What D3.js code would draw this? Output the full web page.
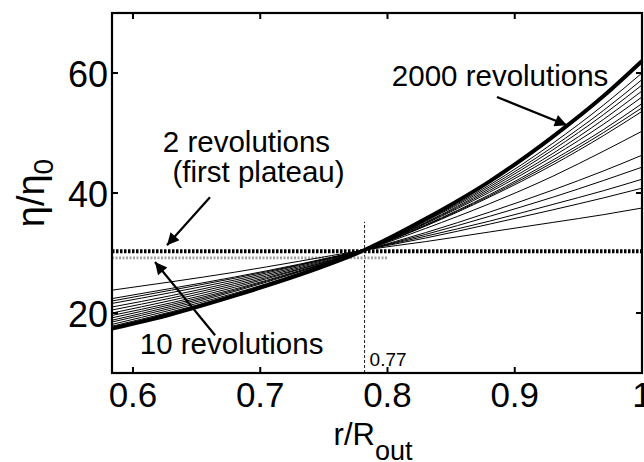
<!DOCTYPE html>
<html>
<head>
<meta charset="utf-8">
<script src="https://cdn.jsdelivr.net/npm/d3@7"></script>
<style>
  body { margin: 0; background: #fff; }
  svg text { font-family: "Liberation Sans", Arial, Helvetica, sans-serif; fill: #000; }
</style>
</head>
<body>
<p style="margin:0"></p>
<script>
var rValues = [0.5835, 0.63, 0.68, 0.73, 0.782, 0.83, 0.88, 0.93, 0.97, 1.0];

// intermediate revolutions (thin lines), eta/eta0
var thinCurves = [
    [23.8, 25.2, 26.8, 28.6, 30.5, 31.9, 33.5, 35.1, 36.4, 37.5],
    [22.4, 24.1, 26.0, 28.1, 30.5, 32.5, 34.8, 37.2, 39.2, 40.8],
    [22.0, 23.8, 25.8, 28.0, 30.5, 32.8, 35.3, 38.1, 40.4, 42.3],
    [21.6, 23.4, 25.5, 27.9, 30.5, 33.1, 36.1, 39.3, 42.1, 44.3],
    [21.0, 22.9, 25.2, 27.7, 30.5, 33.4, 36.8, 40.5, 43.7, 46.3],
    [20.5, 22.5, 24.9, 27.5, 30.5, 34.1, 38.2, 42.8, 47.0, 50.3],
    [20.0, 22.1, 24.6, 27.3, 30.5, 34.5, 39.3, 44.7, 49.6, 53.6],
    [19.6, 21.7, 24.3, 27.2, 30.5, 34.6, 39.5, 45.1, 50.1, 54.2],
    [19.2, 21.4, 24.0, 27.0, 30.5, 34.7, 39.7, 45.5, 50.6, 54.9],
    [18.8, 21.1, 23.8, 26.9, 30.5, 34.9, 40.1, 46.1, 51.5, 56.0],
    [18.5, 20.8, 23.6, 26.8, 30.5, 35.0, 40.4, 46.6, 52.3, 57.0],
    [18.1, 20.5, 23.3, 26.6, 30.5, 35.1, 40.7, 47.2, 53.1, 58.0],
    [17.8, 20.2, 23.1, 26.5, 30.5, 35.3, 41.0, 47.7, 53.8, 58.9],
    [17.6, 20.0, 23.0, 26.4, 30.5, 35.4, 41.3, 48.3, 54.7, 60.0]
];

// 2000 revolutions (thick)
var thickCurve = [17.4, 19.8, 22.9, 26.3, 30.5, 35.7, 41.9, 49.4, 56.2, 62.0];

// flat profiles
var plateau2 = { r: [0.5835, 1.0], eta: [30.3, 30.3] };   // 2 revolutions
var plateau10 = { r: [0.5835, 0.80], eta: [29.2, 29.2] }; // 10 revolutions

var crossR = 0.782;
var crossTop = 35.2;

var xTicks = [0.6, 0.7, 0.8, 0.9, 1.0];
var yTicks = [20, 40, 60];

var w = 644;
var h = 462;
var pLeft = 112, pRight = 642, pTop = 13, pBottom = 373;

var svg = d3.select("p")
            .append("svg")
            .attr("width", w)
            .attr("height", h)
            .style("display", "block");

var x = d3.scaleLinear().domain([0.5835, 1.0]).range([pLeft, pRight]);
var y = d3.scaleLinear().domain([10, 70]).range([pBottom, pTop]);

svg.append("clipPath")
   .attr("id", "plotclip")
   .append("rect")
   .attr("x", pLeft)
   .attr("y", pTop)
   .attr("width", pRight - pLeft)
   .attr("height", pBottom - pTop);

var plot = svg.append("g").attr("clip-path", "url(#plotclip)");

var line = d3.line()
             .x(function(d) { return x(d[0]); })
             .y(function(d) { return y(d[1]); })
             .curve(d3.curveMonotoneX);

function pairs(rs, vs) {
    return rs.map(function(r, i) { return [r, vs[i]]; });
}

// vertical marker at the crossing point
plot.append("line")
    .attr("x1", x(crossR)).attr("x2", x(crossR))
    .attr("y1", y(10)).attr("y2", y(crossTop))
    .attr("stroke", "#000")
    .attr("stroke-width", 0.9)
    .attr("stroke-dasharray", "3,2");

// 10 revolutions, grey dotted
plot.append("path")
    .attr("d", line(pairs(plateau10.r, plateau10.eta)))
    .attr("fill", "none")
    .attr("stroke", "#a0a0a0")
    .attr("stroke-width", 2.8)
    .attr("stroke-dasharray", "2,1.5");

// 2 revolutions, black dotted
plot.append("path")
    .attr("d", line(pairs(plateau2.r, plateau2.eta)))
    .attr("fill", "none")
    .attr("stroke", "#000")
    .attr("stroke-width", 4)
    .attr("stroke-dasharray", "2.5,1.5");

plot.selectAll(".thin")
    .data(thinCurves)
    .enter()
    .append("path")
    .attr("class", "thin")
    .attr("d", function(d) { return line(pairs(rValues, d)); })
    .attr("fill", "none")
    .attr("stroke", "#000")
    .attr("stroke-width", 1);

plot.append("path")
    .attr("d", line(pairs(rValues, thickCurve)))
    .attr("fill", "none")
    .attr("stroke", "#000")
    .attr("stroke-width", 4);

// frame with inward ticks (top/bottom/left/right)
var tickLen = 6;
var axes = svg.append("g").attr("stroke", "#000").attr("stroke-width", 2);

axes.selectAll(".xtb")
    .data(xTicks)
    .enter()
    .append("line")
    .attr("x1", function(d) { return x(d); })
    .attr("x2", function(d) { return x(d); })
    .attr("y1", pBottom)
    .attr("y2", pBottom - tickLen);

axes.selectAll(".xtt")
    .data(xTicks)
    .enter()
    .append("line")
    .attr("x1", function(d) { return x(d); })
    .attr("x2", function(d) { return x(d); })
    .attr("y1", pTop)
    .attr("y2", pTop + tickLen);

axes.selectAll(".ytl")
    .data(yTicks)
    .enter()
    .append("line")
    .attr("x1", pLeft)
    .attr("x2", pLeft + tickLen)
    .attr("y1", function(d) { return y(d); })
    .attr("y2", function(d) { return y(d); });

axes.selectAll(".ytr")
    .data(yTicks)
    .enter()
    .append("line")
    .attr("x1", pRight)
    .attr("x2", pRight - tickLen)
    .attr("y1", function(d) { return y(d); })
    .attr("y2", function(d) { return y(d); });

svg.append("rect")
   .attr("x", pLeft)
   .attr("y", pTop)
   .attr("width", pRight - pLeft)
   .attr("height", pBottom - pTop)
   .attr("fill", "none")
   .attr("stroke", "#000")
   .attr("stroke-width", 2.2);

// tick labels
svg.selectAll(".xl")
   .data(xTicks)
   .enter()
   .append("text")
   .attr("x", function(d) { return x(d); })
   .attr("y", 407)
   .attr("text-anchor", "middle")
   .attr("font-size", 35)
   .text(function(d) { return d === 1 ? "1" : d3.format(".1f")(d); });

svg.selectAll(".yl")
   .data(yTicks)
   .enter()
   .append("text")
   .attr("x", pLeft - 4)
   .attr("y", function(d) { return y(d) + 14; })
   .attr("text-anchor", "end")
   .attr("font-size", 36)
   .text(function(d) { return d; });

// axis titles
var xt = svg.append("text")
            .attr("x", 373)
            .attr("y", 445)
            .attr("text-anchor", "middle")
            .attr("font-size", 31);
xt.append("tspan").text("r/R");
xt.append("tspan").attr("font-size", 27).attr("dy", 15).text("out");

var yt = svg.append("text")
            .attr("transform", "translate(44,193) rotate(-90)")
            .attr("text-anchor", "middle")
            .attr("font-size", 38);
yt.append("tspan").text("\u03b7/\u03b7");
yt.append("tspan").attr("font-size", 28).attr("dy", 9).text("0");

// annotations
var notes = [
    { text: "2000 revolutions", r: 0.8885, eta: 57.8 },
    { text: "2 revolutions", r: 0.6892, eta: 46.8 },
    { text: "(first plateau)", r: 0.6986, eta: 41.8 },
    { text: "10 revolutions", r: 0.6775, eta: 13.2 }
];

svg.selectAll(".note")
   .data(notes)
   .enter()
   .append("text")
   .attr("x", function(d) { return x(d.r); })
   .attr("y", function(d) { return y(d.eta); })
   .attr("text-anchor", "middle")
   .attr("font-size", 29.5)
   .text(function(d) { return d.text; });

svg.append("text")
   .attr("x", x(crossR) + 5)
   .attr("y", y(11.2))
   .attr("font-size", 19)
   .text("0.77");

var arrows = [
    { r0: 0.886, e0: 56.0, r1: 0.941, e1: 51.3 },
    { r0: 0.6605, e0: 39.3, r1: 0.6267, e1: 31.3 },
    { r0: 0.6645, e0: 16.3, r1: 0.6173, e1: 28.5 }
];

svg.append("defs")
   .append("marker")
   .attr("id", "head")
   .attr("viewBox", "0 0 10 10")
   .attr("refX", 10)
   .attr("refY", 5)
   .attr("markerWidth", 6.5)
   .attr("markerHeight", 5.5)
   .attr("markerUnits", "strokeWidth")
   .attr("orient", "auto")
   .append("path")
   .attr("d", "M0,0 L10,5 L0,10 Z")
   .attr("fill", "#000");

svg.selectAll(".arrow")
   .data(arrows)
   .enter()
   .append("line")
   .attr("x1", function(d) { return x(d.r0); })
   .attr("y1", function(d) { return y(d.e0); })
   .attr("x2", function(d) { return x(d.r1); })
   .attr("y2", function(d) { return y(d.e1); })
   .attr("stroke", "#000")
   .attr("stroke-width", 2.2)
   .attr("marker-end", "url(#head)");
</script>
</body>
</html>
